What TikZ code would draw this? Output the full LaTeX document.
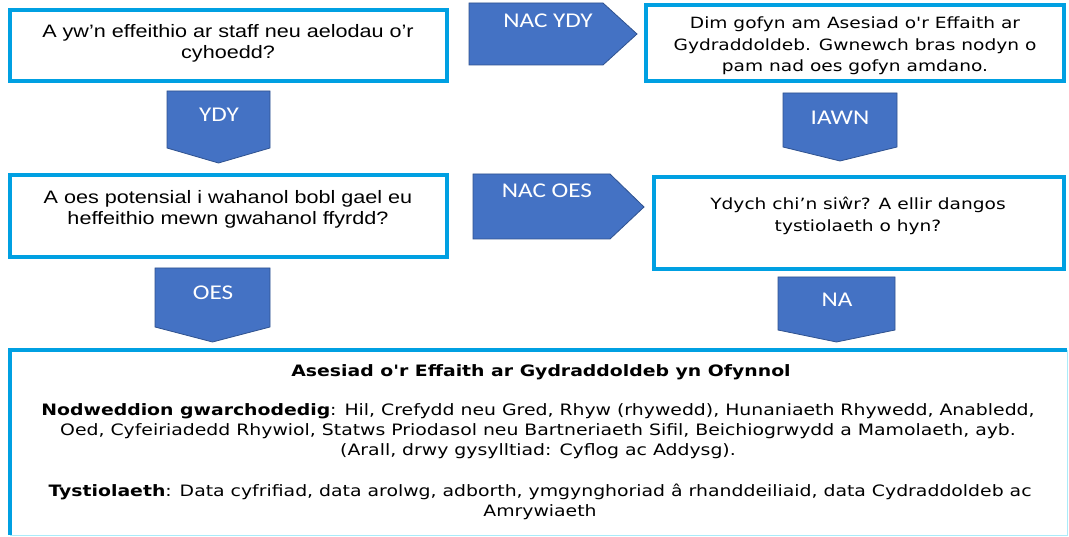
\documentclass[tikz,border=0pt]{standalone}
\usepackage{fontspec}
\newfontfamily\arialf[FakeStretch=1.2,Ligatures=TeXOff]{Liberation Sans}
\newfontfamily\verdf[FakeStretch=1.2,Ligatures=TeXOff]{DejaVu Sans}
\newfontfamily\calf[FakeStretch=1.2,Ligatures=TeXOff]{Carlito}
\definecolor{bordercyan}{RGB}{0,160,226}
\definecolor{arrowfill}{HTML}{4472C4}
\definecolor{arrowedge}{HTML}{2F528F}
\definecolor{lightedge}{RGB}{170,235,250}
\begin{document}
\begin{tikzpicture}[x=1pt,y=-1pt,
  qbox/.style={draw=bordercyan,line width=4pt,fill=white,inner sep=0pt,outer sep=0pt},
  arrowshape/.style={fill=arrowfill,draw=arrowedge,line width=0.8pt,line join=miter},
  arrowlabel/.style={text=white,font=\calf\fontsize{21}{24}\selectfont,inner sep=0pt},
  qtexta/.style={font=\arialf\fontsize{18}{21}\selectfont,align=center,inner sep=0pt},
  qtextv/.style={font=\verdf\fontsize{15.5}{21.5}\selectfont,align=center,inner sep=0pt},
  bodytext/.style={font=\verdf\fontsize{15.7}{20.2}\selectfont,align=center,inner sep=0pt}]
\useasboundingbox (0,0) rectangle (1069,537);
\fill[white] (0,0) rectangle (1069,537);

% question boxes
\node[qbox,minimum width=437pt,minimum height=71pt] (b1) at (228.5,45.5) {};
\node[qbox,minimum width=418pt,minimum height=76pt] (b2) at (855,43) {};
\node[qbox,minimum width=437pt,minimum height=82pt] (b3) at (228.5,216) {};
\node[qbox,minimum width=410pt,minimum height=92pt] (b4) at (859,223) {};
\node[inner sep=0pt,outer sep=0pt,minimum width=1057pt,minimum height=185pt] (b5) at (538.5,442.5) {};
\draw[lightedge,line width=1pt] (b5.north east) -- (b5.south east) -- (b5.south west);
\draw[bordercyan,line width=4pt] (b5.south west) -- (b5.north west) -- (b5.north east);

\node[qtexta] (t1) at (228,43) {A yw’n effeithio ar staff neu aelodau o’r\\cyhoedd?};
\node[qtextv] (t2) at (855,46) {Dim gofyn am Asesiad o'r Effaith ar\\Gydraddoldeb. Gwnewch bras nodyn o\\pam nad oes gofyn amdano.};
\node[qtexta] (t3) at (228,209) {A oes potensial i wahanol bobl gael eu\\heffeithio mewn gwahanol ffyrdd?};
\node[qtextv] (t4) at (858,216) {Ydych chi’n siŵr? A ellir dangos\\tystiolaeth o hyn?};

% block arrows
\draw[arrowshape] (469,3) -- (603,3) -- (637,34) -- (603,65) -- (469,65) -- cycle;
\node[arrowlabel] (l1) at (548,21) {NAC YDY};
\draw[arrowshape] (473,174) -- (610,174) -- (644,207) -- (610,239) -- (473,239) -- cycle;
\node[arrowlabel] (l2) at (547,191) {NAC OES};
\draw[arrowshape] (167,91) -- (270,91) -- (270,148) -- (218.5,163) -- (167,148) -- cycle;
\node[arrowlabel] (l3) at (219,115) {YDY};
\draw[arrowshape] (783,93) -- (897,93) -- (897,147) -- (840,161) -- (783,147) -- cycle;
\node[arrowlabel] (l4) at (840,118) {IAWN};
\draw[arrowshape] (155,268) -- (270,268) -- (270,327) -- (212.5,342) -- (155,327) -- cycle;
\node[arrowlabel] (l5) at (213,293) {OES};
\draw[arrowshape] (778,277) -- (895,277) -- (895,330) -- (836.5,342) -- (778,330) -- cycle;
\node[arrowlabel] (l6) at (837,300) {NA};

% result box text
\node[bodytext,font=\verdf\bfseries\fontsize{15.7}{20.2}\selectfont] (t5) at (541,372) {Asesiad o'r Effaith ar Gydraddoldeb yn Ofynnol};
\node[bodytext] (t6) at (538,431) {\textbf{Nodweddion gwarchodedig}: Hil, Crefydd neu Gred, Rhyw (rhywedd), Hunaniaeth Rhywedd, Anabledd,\\Oed, Cyfeiriadedd Rhywiol, Statws Priodasol neu Bartneriaeth Sifil, Beichiogrwydd a Mamolaeth, ayb.\\(Arall, drwy gysylltiad: Cyflog ac Addysg).};
\node[bodytext] (t7) at (540,502) {\textbf{Tystiolaeth}: Data cyfrifiad, data arolwg, adborth, ymgynghoriad â rhanddeiliaid, data Cydraddoldeb ac\\Amrywiaeth};
\end{tikzpicture}
\end{document}
